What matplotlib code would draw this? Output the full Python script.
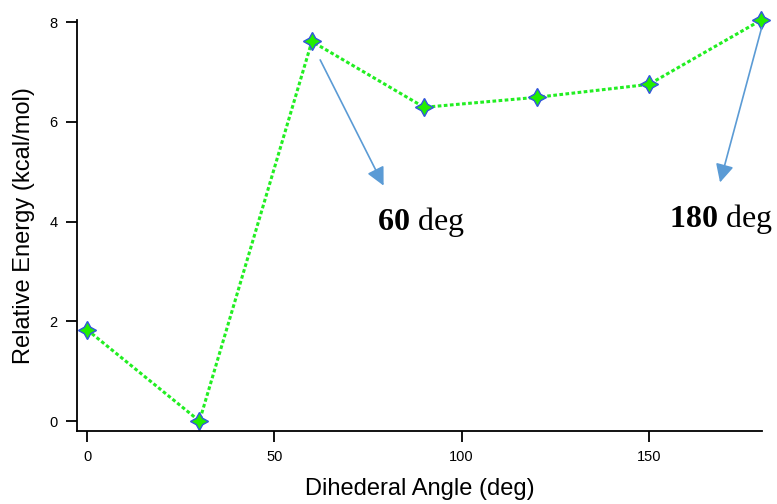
import matplotlib.pyplot as plt
import numpy as np

plt.rcParams['font.family'] = ['Liberation Sans', 'DejaVu Sans']
plt.rcParams['mathtext.fontset'] = 'custom'
plt.rcParams['mathtext.rm'] = 'Liberation Serif'
plt.rcParams['mathtext.bf'] = 'Liberation Serif:bold'

angles = [0, 30, 60, 90, 120, 150, 180]
energy = [1.83, 0.0, 7.61, 6.29, 6.49, 6.75, 8.04]

x_ticks = [0, 50, 100, 150]
y_ticks = [0, 2, 4, 6, 8]

fig = plt.figure(figsize=(7.77, 5.04), dpi=100)
ax = fig.add_axes([0.0991, 0.1448, 0.8816, 0.8155])

ax.plot(angles, energy, color='#22ee22', lw=2.2, linestyle=(0, (1.2, 0.8)),
        marker=(4, 1, 0), markersize=13, markerfacecolor='#22ee00',
        markeredgecolor='#3355dd', markeredgewidth=1.0, clip_on=False)

ax.set_xlim(-2.7, 180.2)
ax.set_ylim(-0.2, 8.04)
ax.set_xticks(x_ticks)
ax.set_yticks(y_ticks)
ax.tick_params(direction='out', length=8, width=1.3, labelsize=10.5, pad=6)
for s in ['top', 'right']:
    ax.spines[s].set_visible(False)
for s in ['left', 'bottom']:
    ax.spines[s].set_linewidth(1.3)

ax.set_xlabel('Dihederal Angle (deg)', fontsize=17, labelpad=10)
ax.set_ylabel('Relative Energy (kcal/mol)', fontsize=17, labelpad=10)

arrow_style = dict(arrowstyle='-|>,head_length=1.1,head_width=0.55',
                   color='#5b9bd5', lw=1.2)
ax.annotate('', xy=(79.5, 4.67), xytext=(61.9, 7.29),
            arrowprops=arrow_style, annotation_clip=False)
ax.annotate('', xy=(168.8, 4.73), xytext=(180.3, 7.94),
            arrowprops=arrow_style, annotation_clip=False)

ax.text(77.3, 3.83, r'$\mathbf{60}$ deg', fontsize=23,
        family='Liberation Serif', ha='left', va='baseline')
ax.text(155.5, 3.89, r'$\mathbf{180}$ deg', fontsize=23,
        family='Liberation Serif', ha='left', va='baseline', clip_on=False)

fig.savefig('out.png', dpi=100)
